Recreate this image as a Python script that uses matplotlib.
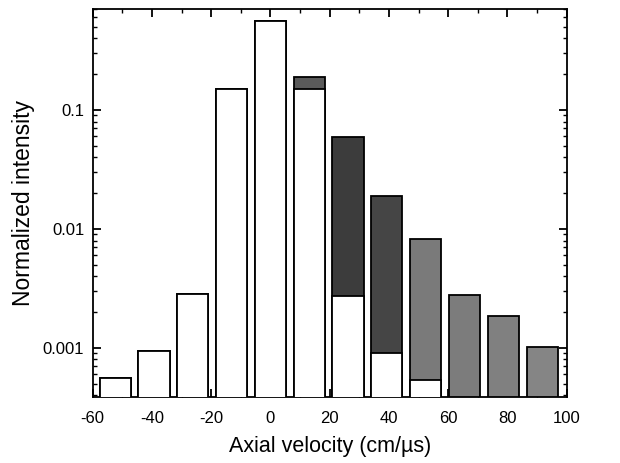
import numpy as np
import matplotlib
matplotlib.use("Agg")
import matplotlib.pyplot as plt
from matplotlib.ticker import MultipleLocator, LogLocator, NullFormatter, FixedLocator, FixedFormatter

plt.rcParams['font.family'] = ['Liberation Sans', 'DejaVu Sans']
plt.rcParams['axes.unicode_minus'] = False

# bar centres (cm/us) and read-off intensities
velocity = [-52.4, -39.3, -26.2, -13.1, 0.0, 13.1, 26.2, 39.3, 52.4, 65.5, 78.6, 91.7]
white_part = [5.6e-4, 9.5e-4, 2.85e-3, 0.15, 0.56, 0.15, 2.73e-3, 9.1e-4, 5.4e-4, 0, 0, 0]
total = [5.6e-4, 9.5e-4, 2.85e-3, 0.15, 0.56, 0.188, 0.059, 0.0189, 8.3e-3, 2.8e-3, 1.86e-3, 1.01e-3]
shade = ['white'] * 5 + ['#5a5a5a', '#3c3c3c', '#454545', '#7a7a7a', '#7c7c7c', '#808080', '#858585']

width = 10.5
ymin, ymax = 3.87e-4, 0.706

fig = plt.figure(figsize=(6.2, 4.63), dpi=100)
ax = fig.add_axes([0.1495, 0.1425, 0.7645, 0.838])

# full bar in shade, then white lower part on top
ax.bar(velocity, [t - 1e-6 for t in total], bottom=1e-6, width=width,
       color=shade, edgecolor='black', linewidth=1.3, zorder=2)
for v, w in zip(velocity, white_part):
    if w > 0:
        ax.bar(v, w - 1e-6, bottom=1e-6, width=width, color='white',
               edgecolor='black', linewidth=1.3, zorder=3)

ax.set_yscale('log')
ax.set_xlim(-60, 100)
ax.set_ylim(ymin, ymax)

ax.xaxis.set_major_locator(MultipleLocator(20))
ax.xaxis.set_minor_locator(MultipleLocator(10))
ax.yaxis.set_major_locator(FixedLocator([0.001, 0.01, 0.1]))
ax.yaxis.set_major_formatter(FixedFormatter(['0.001', '0.01', '0.1']))
ax.yaxis.set_minor_locator(LogLocator(base=10, subs=np.arange(2, 10)))
ax.yaxis.set_minor_formatter(NullFormatter())

ax.tick_params(which='both', direction='in', top=True, right=True, labelsize=12)
ax.tick_params(which='major', length=6, width=1.3)
ax.tick_params(which='minor', length=3, width=1)
ax.tick_params(axis='x', which='major', pad=10)
ax.tick_params(axis='y', which='major', pad=6)
for s in ax.spines.values():
    s.set_linewidth(1.3)

ax.set_xlabel('Axial velocity (cm/µs)', fontsize=15.5, labelpad=7)
ax.set_ylabel('Normalized intensity', fontsize=16.5, labelpad=6)

fig.savefig('out.png', dpi=100)
